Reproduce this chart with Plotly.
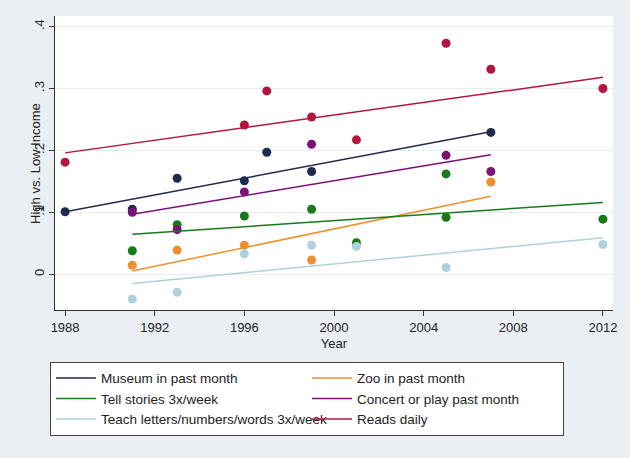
import plotly.graph_objects as go

# ---- data ----
museum_years = [1988, 1991, 1993, 1996, 1997, 1999, 2007]
museum_vals = [0.101, 0.105, 0.155, 0.151, 0.197, 0.166, 0.229]

zoo_years = [1991, 1993, 1996, 1999, 2007]
zoo_vals = [0.0145, 0.039, 0.047, 0.023, 0.149]

stories_years = [1991, 1993, 1996, 1999, 2001, 2005, 2005, 2012]
stories_vals = [0.038, 0.080, 0.094, 0.105, 0.051, 0.162, 0.092, 0.089]

concert_years = [1991, 1993, 1996, 1999, 2005, 2007]
concert_vals = [0.100, 0.072, 0.133, 0.210, 0.192, 0.166]

teach_years = [1991, 1993, 1996, 1999, 2001, 2005, 2012]
teach_vals = [-0.040, -0.029, 0.033, 0.047, 0.045, 0.011, 0.048]

reads_years = [1988, 1996, 1997, 1999, 2001, 2005, 2007, 2012]
reads_vals = [0.181, 0.241, 0.296, 0.254, 0.217, 0.373, 0.331, 0.300]

# fitted-line end values (first year, last year)
museum_fit = [0.101, 0.230]
zoo_fit = [0.0053, 0.126]
stories_fit = [0.0646, 0.116]
concert_fit = [0.097, 0.193]
teach_fit = [-0.015, 0.059]
reads_fit = [0.196, 0.318]

x_ticks = [1988, 1992, 1996, 2000, 2004, 2008, 2012]
y_ticks = [0, 0.1, 0.2, 0.3, 0.4]
y_tick_labels = ["0", ".1", ".2", ".3", ".4"]

series = [
    ("Museum in past month", museum_years, museum_vals, museum_fit, "#1f2a4c"),
    ("Zoo in past month", zoo_years, zoo_vals, zoo_fit, "#ee9030"),
    ("Tell stories 3x/week", stories_years, stories_vals, stories_fit, "#17791a"),
    ("Concert or play past month", concert_years, concert_vals, concert_fit, "#7b1274"),
    ("Teach letters/numbers/words 3x/week", teach_years, teach_vals, teach_fit, "#add1dd"),
    ("Reads daily", reads_years, reads_vals, reads_fit, "#b3163c"),
]

FONT = "Liberation Sans, Arial, Helvetica, sans-serif"
BG = "#e9eff2"

fig = go.Figure()

# scatter points (no legend)
for name, xs, ys, fit, col in series:
    fig.add_trace(go.Scatter(
        x=xs, y=ys, mode="markers", showlegend=False,
        marker=dict(color=col, size=9, line=dict(width=0)),
        hoverinfo="skip",
    ))

# fitted lines (legend entries)
for name, xs, ys, fit, col in series:
    fig.add_trace(go.Scatter(
        x=[min(xs), max(xs)], y=fit, mode="lines", name=name,
        line=dict(color=col, width=1.5),
    ))

fig.update_layout(
    width=630, height=458,
    margin=dict(l=55, r=17, t=16, b=148),
    paper_bgcolor=BG,
    plot_bgcolor="white",
    font=dict(family=FONT, size=13, color="#222"),
    xaxis=dict(
        range=[1987.55, 2012.45], tickvals=x_ticks,
        ticks="outside", ticklen=5, tickcolor="#333",
        showline=True, linecolor="#333", linewidth=1,
        showgrid=False, zeroline=False,
        title=dict(text="Year", standoff=5, font=dict(size=13)),
        tickfont=dict(size=13),
    ),
    yaxis=dict(
        range=[-0.0577, 0.417], tickvals=y_ticks, ticktext=y_tick_labels,
        tickangle=-90,
        ticks="outside", ticklen=5, tickcolor="#333",
        showline=True, linecolor="#333", linewidth=1,
        showgrid=True, gridcolor="#e8eef0", gridwidth=1,
        zeroline=False,
        tickfont=dict(size=13),
    ),
    legend=dict(
        orientation="h",
        x=-0.009, xanchor="left",
        y=-0.176, yanchor="top",
        bgcolor="white", bordercolor="#444", borderwidth=1,
        itemwidth=40,
        entrywidth=201, entrywidthmode="pixels",
        font=dict(size=13.5),
        traceorder="normal",
    ),
    annotations=[dict(
        text="High vs. Low Income", textangle=-90,
        xref="paper", yref="paper", x=-0.036, y=0.5,
        xanchor="center", yanchor="middle", showarrow=False,
        font=dict(size=13),
    )],
)

fig.write_html(
    "out.html",
    config={"displayModeBar": False},
    post_script="document.body.style.margin='0';document.body.style.background='%s';" % BG,
)
